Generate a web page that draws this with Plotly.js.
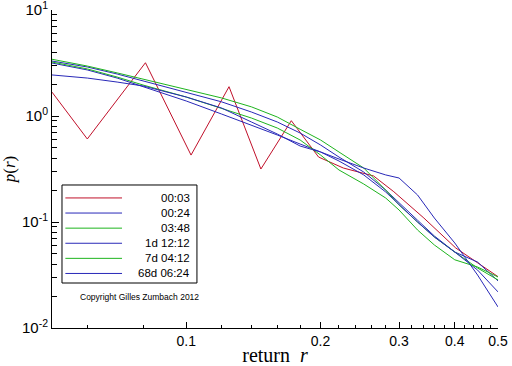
<!DOCTYPE html>
<html>
<head>
<meta charset="utf-8">
<script src="https://cdn.plot.ly/plotly-3.0.1.min.js"></script>
<style>html,body{margin:0;padding:0;background:#fff}#chart{width:512px;height:366px}</style>
</head>
<body>
<div id="chart"></div>
<script>
// ---- data ----
const seriesNames = ["00:03", "00:24", "03:48", "1d 12:12", "7d 04:12", "68d 06:24"];
const seriesColors = ["#c0102a", "#2828b8", "#1eb41e", "#2828b8", "#1eb41e", "#2828b8"];

const xRed = [0.05, 0.06, 0.081, 0.1025, 0.1247, 0.147, 0.172, 0.198, 0.225, 0.263, 0.292, 0.341, 0.402, 0.5];
const yRed = [1.68, 0.607, 3.18, 0.428, 1.89, 0.316, 0.903, 0.41, 0.323, 0.272, 0.193, 0.109, 0.0569, 0.0305];

const xSmooth = [0.05, 0.06, 0.07, 0.08, 0.1, 0.12, 0.14, 0.16, 0.18, 0.2, 0.22, 0.25, 0.28, 0.3, 0.33, 0.36, 0.4, 0.45, 0.5];
const y0024  = [3.30, 2.90, 2.49, 2.14, 1.68, 1.36, 1.09, 0.878, 0.691, 0.533, 0.410, 0.296, 0.200, 0.151, 0.104, 0.0738, 0.0521, 0.0419, 0.0278];
const y0348  = [3.43, 2.96, 2.55, 2.23, 1.80, 1.48, 1.22, 0.978, 0.750, 0.594, 0.4575, 0.323, 0.200, 0.145, 0.100, 0.0722, 0.0521, 0.0368, 0.0284];
const y1d    = [3.16, 2.72, 2.28, 1.88, 1.385, 1.044, 0.822, 0.662, 0.544, 0.458, 0.376, 0.278, 0.192, 0.145, 0.100, 0.0722, 0.0521, 0.0352, 0.0219];
const y7d    = [3.23, 2.78, 2.33, 1.96, 1.51, 1.19, 0.957, 0.770, 0.594, 0.4285, 0.3095, 0.2283, 0.1684, 0.1298, 0.0841, 0.0607, 0.0440, 0.0376, 0.0303];
const y68d   = [2.44, 2.28, 2.09, 1.92, 1.51, 1.19, 0.878, 0.676, 0.521, 0.458, 0.393, 0.323, 0.278, 0.260, 0.180, 0.109, 0.0634, 0.0316, 0.0158];

const xTickVals = [0.1, 0.2, 0.3, 0.4, 0.5];
const xTickText = ["0.1", "0.2", "0.3", "0.4", "0.5"];
const xMinorVals = [0.06, 0.08, 0.12, 0.14, 0.16, 0.18, 0.22, 0.24, 0.26, 0.28, 0.32, 0.34, 0.36, 0.38, 0.42, 0.44, 0.46, 0.48];
const yTickVals = [0.01, 0.1, 1, 10];
const yTickText = ["10<sup>-2</sup>", "10<sup>-1</sup>", "10<sup>0</sup>", "10<sup>1</sup>"];
const yMinorVals = [0.02,0.03,0.04,0.05,0.06,0.07,0.08,0.09,0.2,0.3,0.4,0.5,0.6,0.7,0.8,0.9,2,3,4,5,6,7,8,9];
const copyrightText = "Copyright Gilles Zumbach 2012";

// ---- traces ----
const xs = [xRed, xSmooth, xSmooth, xSmooth, xSmooth, xSmooth];
const ys = [yRed, y0024, y0348, y1d, y7d, y68d];
const traces = ys.map((y, i) => ({
  x: xs[i], y: y, type: "scatter", mode: "lines", name: seriesNames[i],
  line: {color: seriesColors[i], width: 1}, showlegend: false, hoverinfo: "skip"
}));

// ---- hand-made legend (right-aligned labels like the reference) ----
const shapes = [{type: "rect", xref: "paper", yref: "paper", x0: 0.0224, x1: 0.325, y0: 0.1415, y1: 0.4497,
  line: {color: "#000", width: 1}, fillcolor: "#fff", layer: "above"}];
const annotations = [];
const legTop = 0.409, legStep = 0.0475;
seriesNames.forEach((n, i) => {
  const yy = legTop - i * legStep;
  shapes.push({type: "line", xref: "paper", yref: "paper", x0: 0.03, x1: 0.157, y0: yy, y1: yy,
    line: {color: seriesColors[i], width: 1}, layer: "above"});
  annotations.push({xref: "paper", yref: "paper", x: 0.313, y: yy, xanchor: "right", yanchor: "middle",
    text: n, showarrow: false, font: {family: "Liberation Sans, Arial, sans-serif", size: 11.5, color: "#000"}});
});
annotations.push({xref: "paper", yref: "paper", x: 0.058, y: 0.097, xanchor: "left", yanchor: "middle",
  text: copyrightText, showarrow: false, font: {family: "Liberation Sans, Arial, sans-serif", size: 8.5, color: "#000"}});

const layout = {
  width: 512, height: 366,
  margin: {l: 52, r: 14, t: 10, b: 38, pad: 0},
  paper_bgcolor: "#fff", plot_bgcolor: "#fff",
  showlegend: false,
  font: {family: "Liberation Sans, Arial, sans-serif", color: "#000"},
  xaxis: {
    type: "log", range: [Math.log10(0.05), Math.log10(0.5)],
    tickmode: "array", tickvals: xTickVals, ticktext: xTickText,
    ticks: "inside", ticklen: 6, tickwidth: 1, tickcolor: "#000",
    minor: {tickmode: "array", tickvals: xMinorVals, ticks: "inside", ticklen: 3, tickwidth: 1, tickcolor: "#000", showgrid: false},
    showline: true, linecolor: "#000", linewidth: 1, showgrid: false, zeroline: false,
    tickfont: {size: 14, family: "Liberation Sans, Arial, sans-serif"},
    ticklabeloverflow: "allow",
    title: {text: "return  <i>r</i>", font: {family: "Liberation Serif, Times New Roman, serif", size: 20}, standoff: 0},
    automargin: false
  },
  yaxis: {
    type: "log", range: [-2, 1],
    tickmode: "array", tickvals: yTickVals, ticktext: yTickText,
    ticks: "inside", ticklen: 7, tickwidth: 1, tickcolor: "#000",
    minor: {tickmode: "array", tickvals: yMinorVals, ticks: "inside", ticklen: 5, tickwidth: 1, tickcolor: "#000", showgrid: false},
    showline: true, linecolor: "#000", linewidth: 1, showgrid: false, zeroline: false,
    tickfont: {size: 15, family: "Liberation Sans, Arial, sans-serif"},
    ticklabeloverflow: "allow",
    title: {text: "<i>p</i>(<i>r</i>)", font: {family: "Liberation Serif, Times New Roman, serif", size: 17}, standoff: 2},
    automargin: false
  },
  shapes: shapes,
  annotations: annotations
};

Plotly.newPlot("chart", traces, layout, {staticPlot: true, displayModeBar: false});
</script>
</body>
</html>
